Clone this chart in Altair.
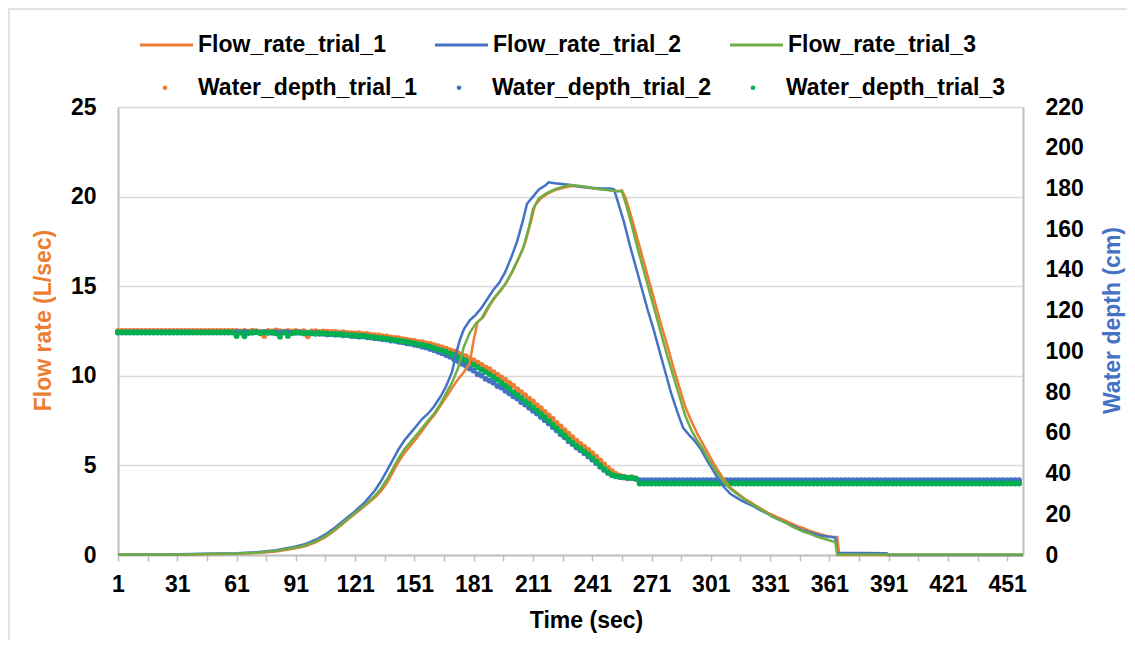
import altair as alt
import pandas as pd

FONT = "Liberation Sans, Arial, sans-serif"
ORANGE = "#ED7D31"
BLUE = "#4472C4"
GREEN_LINE = "#70AD47"
GREEN_DOT = "#00B050"
AXIS_GRAY = "#BFBFBF"
GRID_GRAY = "#D9D9D9"

flow_series = ["Flow_rate_trial_1", "Flow_rate_trial_2", "Flow_rate_trial_3"]
depth_series = ["Water_depth_trial_1", "Water_depth_trial_2", "Water_depth_trial_3"]
x_tick_values = list(range(1, 452, 15))
flow_ticks = [0, 5, 10, 15, 20, 25]
depth_ticks = [0, 20, 40, 60, 80, 100, 120, 140, 160, 180, 200, 220]

# ---- Flow rate (L/sec) ----
flow1_time = [1, 31, 61, 71, 81, 91, 96, 101, 106, 111,
              116, 121, 126, 131, 134, 137, 140, 143, 146, 149,
              152, 155, 158, 161, 164, 167, 170, 173, 176, 179,
              181, 183, 186, 189, 192, 195, 198, 201, 204, 207,
              210, 212, 215, 219, 223, 227, 231, 235, 239, 243,
              247, 251, 254, 256, 258, 261, 264, 267, 270, 273,
              276, 279, 282, 285, 288, 291, 294, 297, 300, 303,
              306, 309, 312, 315, 318, 321, 324, 327, 330, 333,
              336, 339, 342, 345, 348, 351, 354, 357, 360, 363,
              365, 366, 459]
flow1_rate = [0.02, 0.03, 0.07, 0.11, 0.2, 0.38, 0.5, 0.7, 1.0, 1.4,
              1.85, 2.3, 2.75, 3.2, 3.55, 4.0, 4.6, 5.2, 5.7, 6.1,
              6.5, 6.95, 7.4, 7.8, 8.3, 8.8, 9.3, 9.8, 10.2, 10.7,
              12.0, 13.0, 13.3, 13.9, 14.4, 14.8, 15.3, 15.9, 16.6, 17.4,
              18.6, 19.5, 19.9, 20.2, 20.4, 20.5, 20.6, 20.55, 20.5, 20.45,
              20.4, 20.35, 20.3, 20.35, 19.9, 18.8, 17.6, 16.4, 15.2, 14.0,
              12.8, 11.7, 10.5, 9.4, 8.3, 7.5, 6.8, 6.2, 5.6, 5.0,
              4.5, 4.0, 3.65, 3.4, 3.15, 2.95, 2.75, 2.55, 2.35, 2.2,
              2.05, 1.9, 1.75, 1.6, 1.5, 1.35, 1.25, 1.15, 1.05, 1.0,
              1.0, 0.0, 0.0]

flow2_time = [1, 31, 61, 71, 81, 91, 96, 101, 106, 111,
              116, 121, 126, 131, 134, 137, 140, 143, 146, 149,
              152, 155, 158, 161, 164, 167, 170, 172, 174, 176,
              179, 182, 185, 188, 191, 194, 197, 200, 203, 206,
              208, 211, 214, 217, 219, 222, 226, 230, 235, 240,
              245, 250, 252, 254, 257, 260, 263, 266, 269, 272,
              275, 278, 281, 284, 287, 290, 293, 296, 299, 302,
              305, 308, 311, 314, 317, 320, 323, 326, 329, 332,
              335, 338, 341, 344, 347, 350, 353, 356, 359, 362,
              364, 365, 390, 391, 459]
flow2_rate = [0.03, 0.04, 0.10, 0.15, 0.27, 0.48, 0.62, 0.85, 1.15, 1.55,
              2.0, 2.45, 2.95, 3.6, 4.1, 4.7, 5.3, 5.9, 6.4, 6.8,
              7.2, 7.6, 7.9, 8.3, 8.8, 9.4, 10.2, 11.2, 12.0, 12.6,
              13.1, 13.4, 13.8, 14.3, 14.8, 15.2, 15.8, 16.6, 17.5, 18.7,
              19.6, 20.0, 20.4, 20.6, 20.8, 20.75, 20.7, 20.65, 20.55, 20.5,
              20.45, 20.45, 20.4, 19.7, 18.6, 17.3, 16.1, 14.9, 13.7, 12.6,
              11.4, 10.2, 9.0, 8.0, 7.1, 6.7, 6.35, 5.9, 5.3, 4.75,
              4.2, 3.75, 3.4, 3.2, 3.0, 2.85, 2.7, 2.5, 2.35, 2.15,
              2.0, 1.85, 1.7, 1.55, 1.4, 1.3, 1.2, 1.1, 1.05, 1.0,
              0.97, 0.12, 0.1, 0.0, 0.0]

flow3_time = [1, 31, 61, 71, 81, 91, 96, 101, 106, 111,
              116, 121, 126, 131, 134, 137, 140, 143, 146, 149,
              152, 155, 158, 161, 164, 167, 170, 173, 176, 179,
              182, 185, 188, 191, 194, 197, 200, 203, 206, 209,
              211, 214, 218, 222, 226, 230, 234, 238, 242, 246,
              250, 254, 256, 258, 261, 264, 267, 270, 273, 276,
              279, 282, 285, 288, 291, 294, 297, 300, 303, 306,
              309, 312, 315, 318, 321, 324, 327, 330, 333, 336,
              339, 342, 345, 348, 351, 354, 357, 360, 363, 364,
              365, 459]
flow3_rate = [0.03, 0.03, 0.08, 0.13, 0.24, 0.42, 0.55, 0.75, 1.05, 1.45,
              1.9, 2.35, 2.8, 3.3, 3.7, 4.2, 4.8, 5.4, 5.9, 6.3,
              6.7, 7.1, 7.5, 7.9, 8.4, 9.0, 9.6, 10.4, 11.6, 12.4,
              12.9, 13.2, 13.8, 14.3, 14.7, 15.1, 15.7, 16.4, 17.1, 18.3,
              19.3, 19.9, 20.2, 20.4, 20.55, 20.65, 20.6, 20.55, 20.45, 20.4,
              20.35, 20.3, 20.3, 19.6, 18.4, 17.1, 15.9, 14.7, 13.5, 12.3,
              11.1, 10.0, 8.9, 7.8, 7.0, 6.4, 5.9, 5.3, 4.8, 4.3,
              3.9, 3.6, 3.35, 3.1, 2.9, 2.7, 2.5, 2.3, 2.1, 1.95,
              1.8, 1.6, 1.45, 1.3, 1.2, 1.05, 0.95, 0.85, 0.75, 0.72,
              0.03, 0.03]

# ---- Water depth (cm), one reading every 2 s from t = 1 ----
depth_time = list(range(1, 459, 2))
depth1 = [110.0] * 30 + [
    110.0, 109.8, 110.1, 109.7, 110.2, 109.9, 109.6, 107.6, 110.0, 109.8,
    110.3, 109.9, 109.7, 110.1, 109.8, 110.0, 109.6, 109.9, 107.4, 109.8,
    109.9, 109.6, 109.8, 109.7, 109.5, 109.6, 109.2, 109.4, 109.0, 108.9,
    108.8, 108.9, 108.5, 108.6, 108.1, 108.0, 107.8, 107.4, 107.3, 106.9,
    106.6, 106.5, 106.0, 105.8, 105.4, 105.1, 104.7, 104.5, 103.9, 103.6,
    103.1, 102.5, 102.0, 101.3, 100.6, 100.0, 99.1, 98.4, 97.6, 96.5,
    95.6, 94.4, 93.4, 92.1, 91.2, 89.8, 88.6, 87.2, 86.0, 84.5,
    83.1, 81.4, 80.0, 78.5, 76.8, 75.4, 73.6, 72.1, 70.3, 68.6,
    66.8, 64.9, 63.2, 61.3, 59.6, 57.9, 56.1, 54.6, 53.1, 51.6,
    50.0, 48.3, 46.4, 44.6, 42.8, 41.2, 39.8, 38.9, 38.5, 37.6,
    38.2, 37.4, 35.6] + [35.6] * 96
depth2 = [109.3] * 30 + [
    109.6, 109.3, 109.5, 109.0, 109.4, 109.6, 109.2, 109.5, 109.3, 109.1,
    109.4, 109.2, 109.5, 109.3, 109.0, 109.2, 109.4, 108.9, 109.1, 108.8,
    108.9, 108.6, 108.7, 108.3, 108.5, 108.2, 108.4, 107.9, 108.0, 107.6,
    107.5, 107.2, 107.4, 106.9, 106.8, 106.4, 106.3, 105.9, 105.8, 105.3,
    105.2, 104.7, 104.5, 104.0, 103.8, 103.2, 102.9, 102.3, 101.9, 101.2,
    100.6, 99.8, 99.1, 98.2, 97.4, 96.2, 95.3, 93.9, 93.0, 91.6,
    90.5, 88.8, 88.1, 86.5, 85.6, 84.6, 83.0, 82.2, 80.6, 79.4,
    77.9, 76.8, 75.1, 73.9, 72.3, 70.8, 69.5, 67.8, 66.2, 64.6,
    62.8, 61.1, 59.3, 57.8, 55.9, 54.5, 52.8, 51.5, 50.0, 48.4,
    46.8, 45.1, 43.3, 41.8, 40.3, 39.2, 38.6, 38.3, 38.1, 37.9,
    37.8, 37.5, 36.8] + [36.8] * 96
depth3 = [109.3] * 30 + [
    107.5, 109.2, 107.4, 109.3, 109.2, 109.4, 108.9, 109.3, 109.1, 109.4,
    108.8, 107.2, 109.2, 107.6, 109.0, 109.3, 109.1, 108.9, 109.2, 109.0,
    108.6, 109.0, 108.8, 108.7, 108.5, 108.6, 108.3, 108.4, 108.1, 108.0,
    107.8, 107.6, 107.7, 107.3, 107.1, 106.9, 106.6, 106.5, 106.1, 105.9,
    105.6, 105.3, 105.0, 104.6, 104.4, 103.9, 103.5, 103.2, 102.7, 102.3,
    101.7, 101.0, 100.4, 99.8, 98.9, 98.2, 97.2, 96.4, 95.5, 94.5,
    93.4, 92.2, 91.0, 89.9, 88.7, 87.4, 86.1, 84.6, 83.2, 81.8,
    80.0, 78.6, 77.2, 75.6, 74.2, 72.6, 70.9, 69.3, 67.7, 65.9,
    64.0, 62.3, 60.4, 58.7, 56.9, 55.2, 53.6, 52.2, 50.8, 49.3,
    47.6, 45.8, 44.0, 42.3, 40.6, 39.4, 38.7, 38.4, 38.2, 38.0,
    37.9, 37.6, 35.1] + [35.1] * 96

flow_rows = []
for name, ts, qs in zip(flow_series, [flow1_time, flow2_time, flow3_time],
                        [flow1_rate, flow2_rate, flow3_rate]):
    flow_rows += [{"time": t, "flow": q, "series": name} for t, q in zip(ts, qs)]
flow_df = pd.DataFrame(flow_rows)

depth_rows = []
for k, (name, ds) in enumerate(zip(depth_series, [depth1, depth2, depth3])):
    depth_rows += [{"time": t, "depth": d, "series": name, "k": k}
                   for t, d in zip(depth_time, ds)]
depth_df = pd.DataFrame(depth_rows)


def x_enc():
    return alt.X(
        "time:Q",
        scale=alt.Scale(domain=[1, 459], nice=False, zero=False),
        axis=alt.Axis(
            values=x_tick_values,
            labelExpr="(datum.value - 1) % 30 == 0 ? datum.label : ''",
            title="Time (sec)", grid=False, tickSize=6, tickColor=AXIS_GRAY,
            tickWidth=1.5, domainColor=AXIS_GRAY, domainWidth=2,
            labelPadding=12, labelFlush=False, labelOverlap=False,
            titleX=468, titleY=72, titleBaseline="alphabetic", titleAlign="center",
        ),
    )


points = alt.Chart(depth_df).mark_circle(size=34, opacity=1).encode(
    x=x_enc(),
    y=alt.Y(
        "depth:Q",
        scale=alt.Scale(domain=[0, 220], nice=False),
        axis=alt.Axis(
            orient="right", values=depth_ticks, title="Water depth (cm)",
            titleColor=BLUE, grid=False, ticks=False, domainColor=AXIS_GRAY,
            domainWidth=2, labelPadding=22, titleAngle=270, titleX=89, titleY=213,
            titleBaseline="middle", titleAlign="center",
        ),
    ),
    fill=alt.Fill(
        "series:N",
        scale=alt.Scale(domain=depth_series, range=[ORANGE, BLUE, GREEN_DOT]),
        legend=alt.Legend(
            title=None, orient="none", legendX=35.5, legendY=-31,
            direction="horizontal", columns=3, columnPadding=30,
            symbolType="circle", symbolSize=22, symbolStrokeWidth=0,
            labelOffset=21.5, labelLimit=400, padding=0,
        ),
    ),
    order=alt.Order("k:Q"),
)

lines = alt.Chart(flow_df).mark_line(strokeWidth=2.5).encode(
    x=x_enc(),
    y=alt.Y(
        "flow:Q",
        scale=alt.Scale(domain=[0, 25], nice=False),
        axis=alt.Axis(
            orient="left", values=flow_ticks, title="Flow rate (L/sec)",
            titleColor=ORANGE, grid=True, gridColor=GRID_GRAY, gridWidth=1.5,
            ticks=False, domainColor=AXIS_GRAY, domainWidth=2, labelPadding=22,
            titleAngle=270, titleX=-75, titleY=213, titleBaseline="middle",
            titleAlign="center",
        ),
    ),
    stroke=alt.Stroke(
        "series:N",
        scale=alt.Scale(domain=flow_series, range=[ORANGE, BLUE, GREEN_LINE]),
        legend=alt.Legend(
            title=None, orient="none", legendX=20.5, legendY=-90,
            direction="horizontal", columns=3, columnPadding=42,
            symbolType="stroke", symbolSize=2809, symbolStrokeWidth=3,
            labelOffset=3.5, labelLimit=400, padding=0,
        ),
    ),
)

border = alt.Chart(pd.DataFrame({"a": [0]})).mark_rect(
    fill="transparent", stroke=GRID_GRAY, strokeWidth=1.5
).encode(
    x=alt.value(-109), x2=alt.value(1040), y=alt.value(-98), y2=alt.value(560)
)

chart = alt.layer(border, points, lines).resolve_scale(
    y="independent"
).properties(
    width=905, height=448,
    padding={"left": 110, "top": 99, "right": 104, "bottom": 85},
    autosize=alt.AutoSizeParams(type="none"),
).configure_view(stroke=None).configure_axis(
    labelFont=FONT, labelFontSize=23, labelFontWeight="bold", labelColor="#000000",
    titleFont=FONT, titleFontSize=23, titleFontWeight="bold", titleColor="#000000",
).configure_legend(
    labelFont=FONT, labelFontSize=23, labelFontWeight="bold", labelColor="#000000",
)

chart.save("out.html", embed_options={"renderer": "svg", "actions": False})
